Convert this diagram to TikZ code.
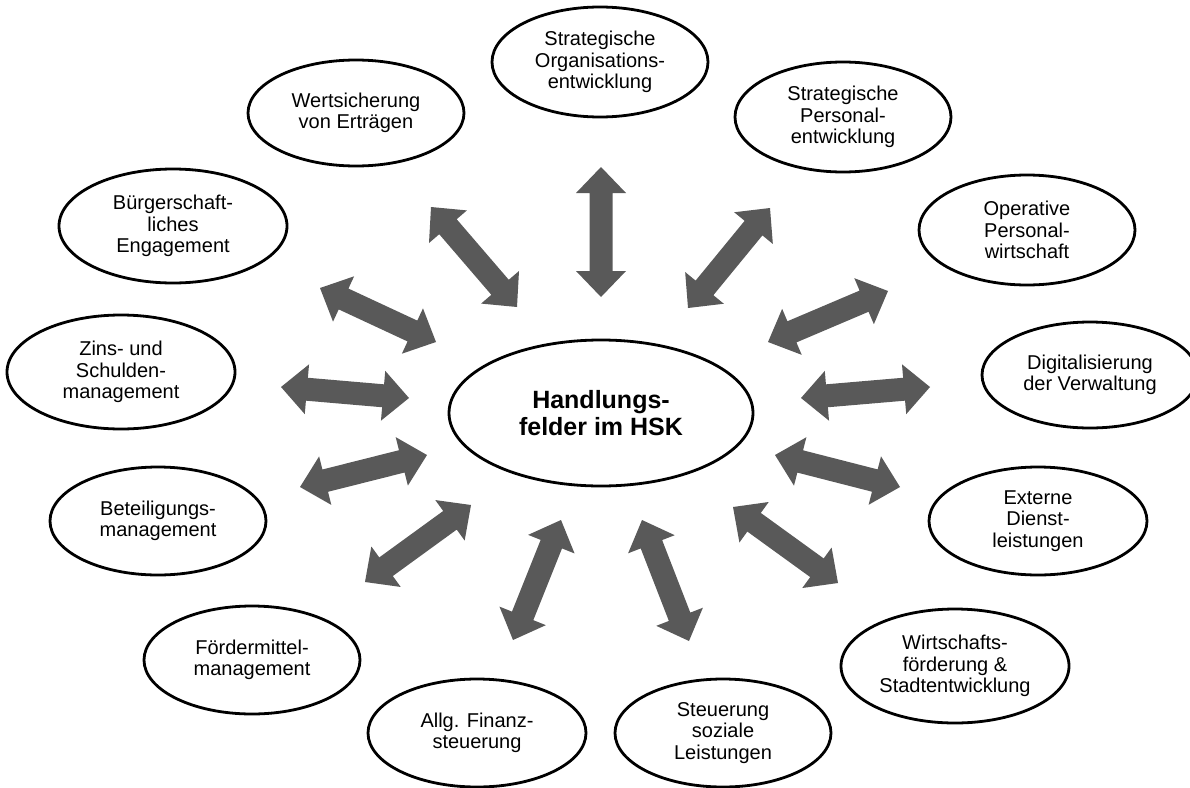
\documentclass[tikz,border=0pt]{standalone}
\usepackage{fontspec}
\setmainfont{Liberation Sans}
\usetikzlibrary{shapes.geometric,calc}
\definecolor{arrowgray}{HTML}{595959}
\def\arrHL{26pt}
\def\arrHW{25pt}
\def\arrSW{11.5pt}
\newcommand{\dblarr}[2]{%
  \fill[arrowgray]
    ($(#1)!\arrHL!(#2)!\arrHW!90:(#2)$) -- (#1) --
    ($(#1)!\arrHL!(#2)!\arrHW!-90:(#2)$) --
    ($(#1)!\arrHL!(#2)!\arrSW!-90:(#2)$) --
    ($(#2)!\arrHL!(#1)!\arrSW!90:(#1)$) --
    ($(#2)!\arrHL!(#1)!\arrHW!90:(#1)$) -- (#2) --
    ($(#2)!\arrHL!(#1)!\arrHW!-90:(#1)$) --
    ($(#2)!\arrHL!(#1)!\arrSW!-90:(#1)$) --
    ($(#1)!\arrHL!(#2)!\arrSW!90:(#2)$) -- cycle;}
\begin{document}
\begin{tikzpicture}[x=1pt,y=-1pt,
  field/.style={ellipse, draw, line width=2.8pt, inner sep=0pt, align=center,
    font=\fontsize{20}{21.3}\selectfont},
  hub/.style={ellipse, draw, line width=2.8pt, inner sep=0pt, align=center,
    font=\fontsize{25}{27}\selectfont\bfseries}]
\useasboundingbox (0,0) rectangle (1190,787);
% central node
\node[hub, minimum width=304, minimum height=146] (c) at (601,413) {Handlungs-\\felder im HSK};
% outer nodes
\node[field, minimum width=216, minimum height=110] (o1) at (600,62) {Strategische\\Organisations-\\entwicklung};
\node[field, minimum width=216, minimum height=110] (o2) at (843,117) {Strategische\\Personal-\\entwicklung};
\node[field, minimum width=216, minimum height=110] (o3) at (1027,230) {Operative\\Personal-\\wirtschaft};
\node[field, minimum width=216, minimum height=106] (o4) at (1090,375) {Digitalisierung\\der Verwaltung};
\node[field, minimum width=218, minimum height=108] (o5) at (1038,521) {Externe\\Dienst-\\leistungen};
\node[field, minimum width=228, minimum height=114] (o6) at (955,666) {Wirtschafts-\\förderung \&\\Stadtentwicklung};
\node[field, minimum width=216, minimum height=108] (o7) at (723,733) {Steuerung\\soziale\\Leistungen};
\node[field, minimum width=218, minimum height=108] (o8) at (477,733) {Allg. Finanz-\\steuerung};
\node[field, minimum width=216, minimum height=108] (o9) at (252,660) {Fördermittel-\\management};
\node[field, minimum width=216, minimum height=108] (o10) at (158,521) {Beteiligungs-\\management};
\node[field, minimum width=228, minimum height=114] (o11) at (121,372) {Zins- und\\Schulden-\\management};
\node[field, minimum width=228, minimum height=114] (o12) at (173,226) {Bürgerschaft-\\liches\\Engagement};
\node[field, minimum width=216, minimum height=106] (o13) at (356,113) {Wertsicherung\\von Erträgen};
% arrow end points
\coordinate (a1o) at (601,167);  \coordinate (a1c) at (601,297);
\coordinate (a2o) at (770,208);  \coordinate (a2c) at (688,308);
\coordinate (a3o) at (888,291);  \coordinate (a3c) at (768,342);
\coordinate (a4o) at (930,387);  \coordinate (a4c) at (801,398);
\coordinate (a5o) at (900,487);  \coordinate (a5c) at (775,455);
\coordinate (a6o) at (838,583);  \coordinate (a6c) at (733,507);
\coordinate (a7o) at (689,641);  \coordinate (a7c) at (642,520);
\coordinate (a8o) at (513,640);  \coordinate (a8c) at (561,520);
\coordinate (a9o) at (365,582);  \coordinate (a9c) at (471,505);
\coordinate (a10o) at (300,487); \coordinate (a10c) at (427,455);
\coordinate (a11o) at (281,387); \coordinate (a11c) at (409,398);
\coordinate (a12o) at (320,288); \coordinate (a12c) at (436,342);
\coordinate (a13o) at (431,207); \coordinate (a13c) at (517,307);
\dblarr{a1o}{a1c}
\dblarr{a2o}{a2c}
\dblarr{a3o}{a3c}
\dblarr{a4o}{a4c}
\dblarr{a5o}{a5c}
\dblarr{a6o}{a6c}
\dblarr{a7o}{a7c}
\dblarr{a8o}{a8c}
\dblarr{a9o}{a9c}
\dblarr{a10o}{a10c}
\dblarr{a11o}{a11c}
\dblarr{a12o}{a12c}
\dblarr{a13o}{a13c}
\end{tikzpicture}
\end{document}
